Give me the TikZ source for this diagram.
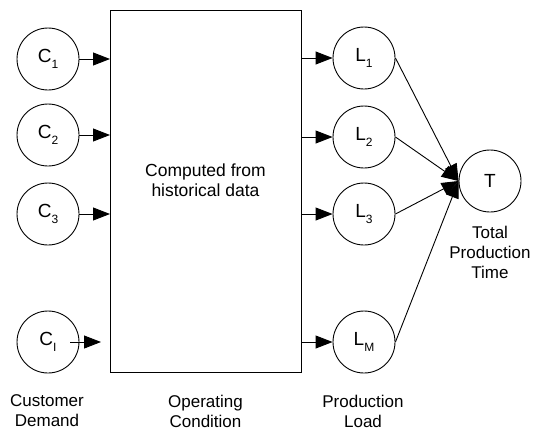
\documentclass[tikz,border=0pt]{standalone}
\usepackage{fontspec}
\setmainfont{Liberation Sans}
\usetikzlibrary{arrows.meta}
\newcommand\lowsub[1]{\raisebox{-6pt}{\fontsize{12}{12}\selectfont #1}}
\tikzset{
  var/.style={circle, draw, line width=0.9pt, minimum size=62pt, inner sep=0pt,
              font=\fontsize{19}{20}\selectfont},
  captext/.style={align=center, font=\fontsize{17}{20}\selectfont, inner sep=0pt},
  flow/.style={line width=0.9pt, -{Triangle[length=17pt,width=13pt]}},
}
\begin{document}
\begin{tikzpicture}[x=1pt,y=-1pt]
  \useasboundingbox (0,0) rectangle (534,431);

  % operating condition block
  \node[draw, line width=0.9pt, minimum width=191pt, minimum height=362pt, inner sep=0pt,
        anchor=north west] (box) at (110,10) {};
  \node[captext, font=\fontsize{17.5}{20}\selectfont] (boxtxt) at (205.5,180) {Computed from\\historical data};

  % customer demand variables
  \node[var] (c1) at (48,59) {C\lowsub{1}};
  \node[var] (c2) at (48,135) {C\lowsub{2}};
  \node[var] (c3) at (48,214) {C\lowsub{3}};
  \node[var] (ci) at (48,342) {C\lowsub{I}};

  % production load variables
  \node[var] (l1) at (364,58) {L\lowsub{1}};
  \node[var] (l2) at (364,137) {L\lowsub{2}};
  \node[var] (l3) at (364,214) {L\lowsub{3}};
  \node[var] (lm) at (364,342) {L\lowsub{M}};

  % total production time
  \node[var] (t) at (490,181) {T};

  % captions
  \node[captext] (capc) at (47,411) {Customer\\Demand};
  \node[captext] (capo) at (205.5,411) {Operating\\Condition};
  \node[captext] (capl) at (363,411) {Production\\Load};
  \node[captext] (capt) at (490,252) {Total\\Production\\Time};

  % inputs into the block
  \draw[flow] (c1.east) -- (c1.east -| box.west);
  \draw[flow] (c2.east) -- (c2.east -| box.west);
  \draw[flow] (c3.east) -- (c3.east -| box.west);
  \coordinate (cis) at ([xshift=22pt]ci.center);
  \coordinate (cie) at ([xshift=-9pt]ci.east -| box.west);
  \draw[flow] (cis) -- (cie);

  % outputs of the block
  \draw[flow] (l1.west -| box.east) -- (l1.west);
  \draw[flow] (l2.west -| box.east) -- (l2.west);
  \draw[flow] (l3.west -| box.east) -- (l3.west);
  \draw[flow] (lm.west -| box.east) -- (lm.west);

  % loads summed into total time, all meeting at its left side
  \draw[flow] (l1.east) -- (t.west);
  \draw[flow] (l2.east) -- (t.west);
  \draw[flow] (l3.east) -- (t.west);
  \draw[flow] (lm.east) -- (t.west);
\end{tikzpicture}
\end{document}
